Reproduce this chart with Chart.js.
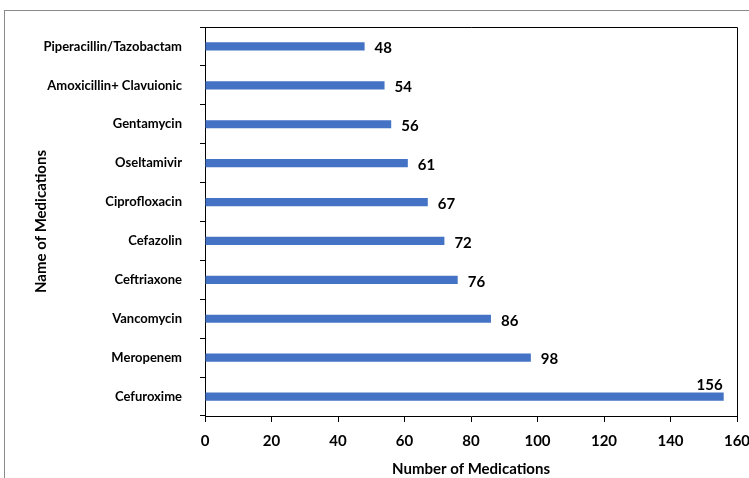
<!DOCTYPE html>
<html>
<head>
<meta charset="utf-8">
<script src="https://cdn.jsdelivr.net/npm/chart.js@4"></script>
<style>
  html, body { margin: 0; padding: 0; background: #fff; }
  #wrap { position: relative; width: 749px; height: 478px; overflow: hidden; }
  #frame { position: absolute; left: 4px; top: 10px; width: 800px; height: 520px; border: 1px solid #8a8a8a; box-sizing: border-box; }
  canvas { position: absolute; left: 0; top: 0; }
</style>
</head>
<body>
<div id="wrap">
  <div id="frame"></div>
  <canvas id="barCanvas" width="749" height="478"></canvas>
</div>
<script>
const medications = [
  "Piperacillin/Tazobactam",
  "Amoxicillin+ Clavuionic",
  "Gentamycin",
  "Oseltamivir",
  "Ciprofloxacin",
  "Cefazolin",
  "Ceftriaxone",
  "Vancomycin",
  "Meropenem",
  "Cefuroxime",
];
const counts = [48, 54, 56, 61, 67, 72, 76, 86, 98, 156];
const xTicks = [0, 20, 40, 60, 80, 100, 120, 140, 160];

const FONT = "Lato, 'Open Sans', sans-serif";

const frameAndLabels = {
  id: "frame_and_labels",
  afterDatasetsDraw: (chart) => {
    const { ctx, chartArea: { left, top, right, bottom } } = chart;
    ctx.save();
    ctx.strokeStyle = "#000";
    ctx.lineWidth = 1;
    ctx.beginPath();
    ctx.moveTo(left, top + 0.5);
    ctx.lineTo(right + 0.5, top + 0.5);
    ctx.lineTo(right + 0.5, bottom);
    ctx.stroke();

    ctx.font = "bold 15px " + FONT;
    ctx.fillStyle = "#000";
    const meta = chart.getDatasetMeta(0);
    meta.data.forEach((bar, i) => {
      const v = counts[i];
      if (v > 140) {
        ctx.textAlign = "right";
        ctx.textBaseline = "bottom";
        ctx.fillText(v, bar.x - 1, bar.y - 4);
      } else {
        ctx.textAlign = "left";
        ctx.textBaseline = "middle";
        ctx.fillText(v, bar.x + 10, bar.y + 2);
      }
    });
    ctx.restore();
  },
};

const config = {
  type: "bar",
  data: {
    labels: medications,
    datasets: [
      {
        data: counts,
        backgroundColor: "#4472C4",
        borderWidth: 0,
        barPercentage: 0.21,
        categoryPercentage: 1,
      },
    ],
  },
  options: {
    indexAxis: "y",
    responsive: false,
    animation: false,
    layout: { padding: { left: 30, top: 27, right: 12, bottom: 0 } },
    plugins: {
      legend: { display: false },
      tooltip: { enabled: false },
    },
    scales: {
      x: {
        min: 0,
        max: 160,
        afterBuildTicks: (axis) => {
          axis.ticks = xTicks.map((v) => ({ value: v }));
        },
        afterFit: (axis) => {
          axis.height = 62;
          axis.paddingRight = 0;
          axis.paddingLeft = 0;
        },
        grid: {
          drawOnChartArea: false,
          drawTicks: true,
          tickLength: 6,
          color: "#000",
        },
        border: { display: true, color: "#000", width: 1 },
        ticks: {
          font: { size: 15, weight: "bold", family: FONT },
          color: "#000",
          padding: 10,
        },
        title: {
          display: true,
          text: "Number of Medications",
          font: { size: 15, weight: "bold", family: FONT },
          color: "#000",
          padding: { top: 12, bottom: 0 },
        },
      },
      y: {
        afterFit: (axis) => {
          axis.width = 175;
        },
        grid: {
          offset: true,
          drawOnChartArea: false,
          drawTicks: true,
          tickLength: 5,
          color: "#000",
        },
        border: { display: true, color: "#000", width: 1 },
        ticks: {
          font: { size: 13, weight: "bold", family: FONT },
          color: "#000",
          padding: 18,
          autoSkip: false,
        },
        title: {
          display: true,
          text: "Name of Medications",
          font: { size: 15, weight: "bold", family: FONT },
          color: "#000",
          padding: { top: 2, bottom: 0 },
        },
      },
    },
  },
  plugins: [frameAndLabels],
};

const canvas = document.getElementById("barCanvas");
if (canvas) {
  new Chart(canvas.getContext("2d"), config);
}
</script>
</body>
</html>
